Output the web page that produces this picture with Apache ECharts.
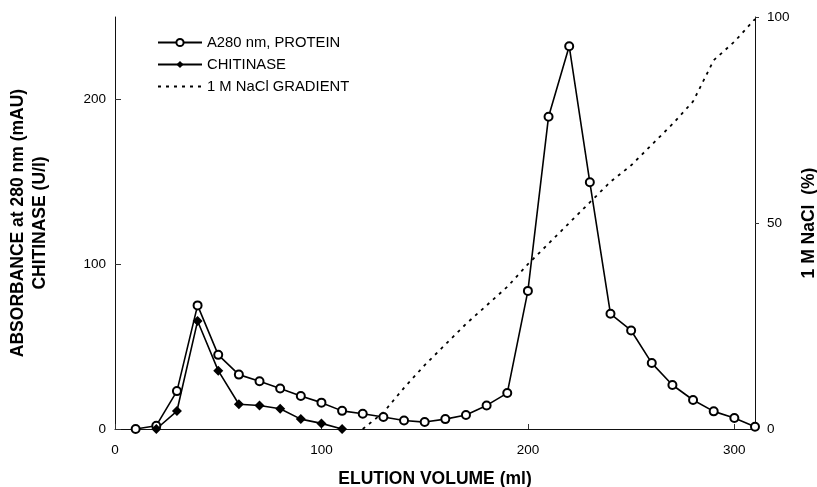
<!DOCTYPE html>
<html>
<head>
<meta charset="utf-8">
<script src="https://cdn.jsdelivr.net/npm/echarts@6/dist/echarts.min.js"></script>
<style>
  html, body { margin: 0; padding: 0; background: #fff; }
  #main { width: 817px; height: 487px; }
</style>
</head>
<body>
<div id="main"></div>
<script>
// elution volumes (ml)
var proteinVol = [10, 20, 30, 40, 50, 60, 70, 80, 90, 100, 110, 120, 130, 140, 150, 160, 170, 180, 190, 200, 210, 220, 230, 240, 250, 260, 270, 280, 290, 300, 310]
var proteinA280 = [0, 2, 23, 75, 45, 33, 29, 24.6, 20, 16, 11, 9.3, 7.3, 5.2, 4.2, 6, 8.5, 14.3, 21.8, 83.8, 189.5, 232.3, 149.7, 69.9, 59.8, 40, 26.7, 17.6, 10.7, 6.7, 1.4]

var chitVol = [20, 30, 40, 50, 60, 70, 80, 90, 100, 110]
var chitinase = [0, 10.9, 65.5, 35.4, 15, 14.3, 12.3, 6, 3.4, 0]

var naclVol = [120, 130, 140, 150, 160, 170, 180, 190, 200, 210, 220, 230, 240, 250, 260, 270, 280, 290, 300, 310]
var naclPct = [0, 4, 10, 15.5, 20.5, 25.5, 30, 34.5, 40, 45, 50, 55, 60, 64, 69, 74, 79.5, 89.5, 94, 99.5]

var leftTicks = [0, 100, 200]
var rightTicks = [0, 50, 100]
var xTicks = [0, 100, 200, 300]

function pairs (xs, ys) {
  return xs.map(function (x, i) { return [x, ys[i]] })
}

var font = 'Liberation Sans, Arial, sans-serif'

var option = {
  animation: false,
  textStyle: {fontFamily: font},
  grid: {left: 115, right: 62, top: 17, bottom: 58, outerBoundsMode: 'none'},
  legend: {
    orient: 'vertical',
    left: 152,
    top: 30,
    itemWidth: 44,
    itemHeight: 9,
    itemGap: 7,
    textStyle: {fontFamily: font, fontSize: 14.8, color: '#000'},
    data: [
      {name: 'A280 nm, PROTEIN'},
      {name: 'CHITINASE'},
      // dashed line only, no marker
      {name: '1 M NaCl GRADIENT', itemStyle: {opacity: 0}}
    ]
  },
  xAxis: {
    type: 'value',
    min: 0,
    max: 310,
    interval: 100,
    name: 'ELUTION VOLUME (ml)',
    nameLocation: 'middle',
    nameGap: 41,
    nameTextStyle: {fontFamily: font, fontSize: 17.5, fontWeight: 'bold', color: '#000'},
    splitLine: {show: false},
    axisLine: {lineStyle: {color: '#111', width: 1}},
    axisTick: {inside: true, length: 5, customValues: xTicks, lineStyle: {color: '#333'}},
    axisLabel: {customValues: xTicks, margin: 14, fontSize: 13.5, color: '#000', fontFamily: font}
  },
  yAxis: [
    {
      type: 'value',
      min: 0,
      max: 250,
      name: 'ABSORBANCE at 280 nm (mAU)\nCHITINASE (U/l)',
      nameLocation: 'middle',
      nameRotate: 90,
      nameGap: 64,
      nameTextStyle: {fontFamily: font, fontSize: 17.5, fontWeight: 'bold', color: '#000', lineHeight: 22},
      splitLine: {show: false},
      axisLine: {show: true, lineStyle: {color: '#111', width: 1}},
      axisTick: {show: true, inside: true, length: 6, customValues: leftTicks, lineStyle: {color: '#333'}},
      axisLabel: {customValues: leftTicks, margin: 9, fontSize: 13.5, color: '#000', fontFamily: font}
    },
    {
      type: 'value',
      min: 0,
      max: 100,
      position: 'right',
      name: '1 M NaCl  (%)',
      nameLocation: 'middle',
      nameRotate: 90,
      nameGap: 44,
      nameTextStyle: {fontFamily: font, fontSize: 17.5, fontWeight: 'bold', color: '#000'},
      splitLine: {show: false},
      axisLine: {show: true, lineStyle: {color: '#111', width: 1}},
      axisTick: {show: true, length: 4, customValues: rightTicks, lineStyle: {color: '#333'}},
      axisLabel: {customValues: rightTicks, margin: 12, fontSize: 13.5, color: '#000', fontFamily: font}
    }
  ],
  series: [
    {
      name: 'A280 nm, PROTEIN',
      type: 'line',
      yAxisIndex: 0,
      symbol: 'emptyCircle',
      symbolSize: 8,
      color: '#000',
      lineStyle: {width: 1.6, color: '#000'},
      itemStyle: {color: '#000', borderWidth: 1.4},
      z: 3,
      data: pairs(proteinVol, proteinA280)
    },
    {
      name: 'CHITINASE',
      type: 'line',
      yAxisIndex: 0,
      symbol: 'diamond',
      symbolSize: 10,
      color: '#000',
      lineStyle: {width: 1.6, color: '#000'},
      itemStyle: {color: '#000'},
      z: 3,
      data: pairs(chitVol, chitinase)
    },
    {
      name: '1 M NaCl GRADIENT',
      type: 'line',
      yAxisIndex: 1,
      symbol: 'none',
      color: '#000',
      lineStyle: {width: 1.8, color: '#000', type: [3, 5]},
      z: 2,
      data: pairs(naclVol, naclPct)
    }
  ]
}

var chart = echarts.init(document.getElementById('main'))
chart.setOption(option)
</script>
</body>
</html>
